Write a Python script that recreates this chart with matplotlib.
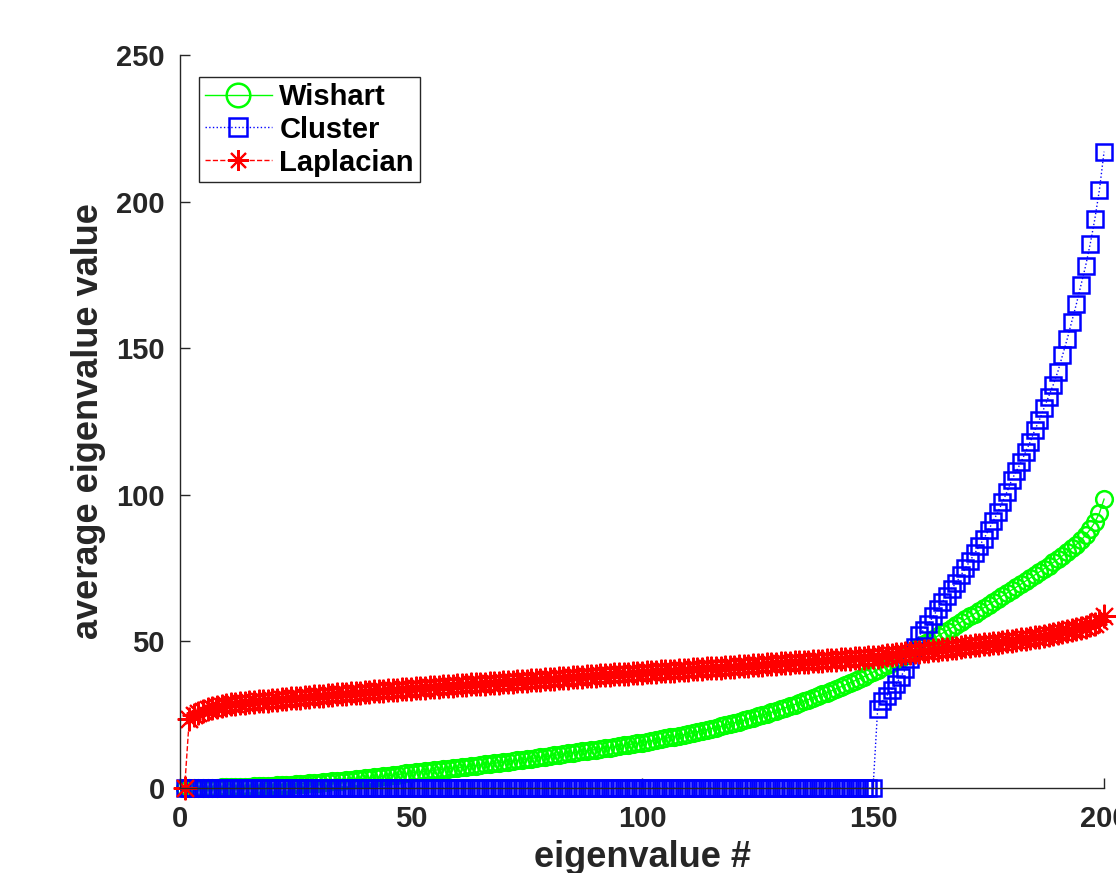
import matplotlib
matplotlib.use("Agg")
import matplotlib.pyplot as plt

# average sorted eigenvalues, index 1..200
wishart = [
    0.0, 0.02, 0.04, 0.06, 0.08, 0.1, 0.12, 0.15, 0.18, 0.21,
    0.25, 0.29, 0.34, 0.39, 0.45, 0.51, 0.57, 0.64, 0.71, 0.8,
    0.88, 0.97, 1.06, 1.16, 1.26, 1.37, 1.48, 1.59, 1.71, 1.83,
    1.96, 2.09, 2.23, 2.37, 2.51, 2.66, 2.81, 2.97, 3.13, 3.3,
    3.47, 3.65, 3.83, 4.01, 4.2, 4.39, 4.58, 4.78, 4.98, 5.18,
    5.35, 5.52, 5.69, 5.86, 6.03, 6.2, 6.37, 6.54, 6.72, 6.9,
    7.08, 7.27, 7.46, 7.65, 7.84, 8.03, 8.22, 8.41, 8.6, 8.8,
    9.0, 9.2, 9.41, 9.62, 9.83, 10.04, 10.25, 10.46, 10.68, 10.9,
    11.12, 11.34, 11.56, 11.78, 12.0, 12.22, 12.44, 12.66, 12.88, 13.1,
    13.33, 13.56, 13.8, 14.04, 14.28, 14.52, 14.76, 15.0, 15.25, 15.5,
    15.78, 16.06, 16.35, 16.64, 16.93, 17.23, 17.53, 17.84, 18.16, 18.5,
    18.84, 19.19, 19.54, 19.9, 20.26, 20.62, 21.0, 21.39, 21.79, 22.2,
    22.62, 23.05, 23.49, 23.93, 24.38, 24.84, 25.31, 25.79, 26.29, 26.8,
    27.33, 27.87, 28.42, 28.98, 29.55, 30.13, 30.72, 31.32, 31.92, 32.5,
    33.14, 33.8, 34.47, 35.15, 35.84, 36.54, 37.25, 37.97, 38.72, 39.5,
    40.3, 41.1, 41.9, 42.7, 43.5, 44.35, 45.2, 46.1, 47.0, 48.0,
    48.95, 49.9, 50.85, 51.8, 52.75, 53.7, 54.65, 55.6, 56.55, 57.5,
    58.5, 59.5, 60.5, 61.5, 62.5, 63.5, 64.5, 65.5, 66.5, 67.5,
    68.5, 69.5, 70.55, 71.6, 72.65, 73.7, 74.75, 75.8, 76.9, 78.0,
    79.2, 80.4, 81.7, 83.0, 84.5, 86.2, 88.2, 90.6, 93.8, 98.5,
]

cluster = [
    0, 0, 0, 0, 0, 0, 0, 0, 0, 0,
    0, 0, 0, 0, 0, 0, 0, 0, 0, 0,
    0, 0, 0, 0, 0, 0, 0, 0, 0, 0,
    0, 0, 0, 0, 0, 0, 0, 0, 0, 0,
    0, 0, 0, 0, 0, 0, 0, 0, 0, 0,
    0, 0, 0, 0, 0, 0, 0, 0, 0, 0,
    0, 0, 0, 0, 0, 0, 0, 0, 0, 0,
    0, 0, 0, 0, 0, 0, 0, 0, 0, 0,
    0, 0, 0, 0, 0, 0, 0, 0, 0, 0,
    0, 0, 0, 0, 0, 0, 0, 0, 0, 0,
    0, 0, 0, 0, 0, 0, 0, 0, 0, 0,
    0, 0, 0, 0, 0, 0, 0, 0, 0, 0,
    0, 0, 0, 0, 0, 0, 0, 0, 0, 0,
    0, 0, 0, 0, 0, 0, 0, 0, 0, 0,
    0, 0, 0, 0, 0, 0, 0, 0, 0, 0,
    27.0, 29.5, 31.5, 33.5, 35.5, 38.0, 40.5, 44.0, 48.0, 52.0,
    54.0, 56.0, 58.5, 61.0, 63.5, 65.5, 68.0, 70.0, 72.5, 75.0,
    77.5, 80.0, 82.5, 85.0, 88.0, 91.0, 94.0, 97.5, 101.0, 105.0,
    108.0, 111.0, 114.5, 118.0, 122.0, 125.5, 129.5, 133.5, 137.5, 142.0,
    147.5, 153.0, 159.0, 165.0, 171.5, 178.0, 185.5, 194.0, 204.0, 217.0,
]

laplacian = [
    0.0, 23.5, 24.9, 25.7, 26.3, 26.8, 27.2, 27.6, 27.95, 28.3,
    28.5, 28.7, 28.9, 29.05, 29.2, 29.35, 29.5, 29.65, 29.8, 29.95,
    30.1, 30.24, 30.38, 30.52, 30.66, 30.8, 30.94, 31.08, 31.22, 31.36,
    31.49, 31.62, 31.75, 31.88, 32.01, 32.14, 32.27, 32.4, 32.53, 32.66,
    32.78, 32.9, 33.02, 33.14, 33.26, 33.38, 33.5, 33.62, 33.74, 33.86,
    33.97, 34.08, 34.19, 34.3, 34.41, 34.52, 34.63, 34.74, 34.85, 34.96,
    35.07, 35.18, 35.29, 35.4, 35.51, 35.62, 35.73, 35.84, 35.95, 36.06,
    36.17, 36.28, 36.39, 36.5, 36.61, 36.72, 36.83, 36.94, 37.05, 37.16,
    37.27, 37.38, 37.49, 37.6, 37.71, 37.82, 37.93, 38.04, 38.15, 38.26,
    38.37, 38.48, 38.59, 38.7, 38.81, 38.92, 39.03, 39.14, 39.25, 39.36,
    39.46, 39.56, 39.66, 39.76, 39.86, 39.96, 40.06, 40.16, 40.26, 40.36,
    40.46, 40.56, 40.66, 40.76, 40.86, 40.96, 41.06, 41.16, 41.26, 41.36,
    41.47, 41.58, 41.69, 41.8, 41.91, 42.02, 42.13, 42.24, 42.35, 42.46,
    42.57, 42.68, 42.79, 42.9, 43.01, 43.12, 43.23, 43.34, 43.45, 43.56,
    43.67, 43.78, 43.89, 44.0, 44.11, 44.22, 44.33, 44.44, 44.55, 44.66,
    44.8, 45.0, 45.2, 45.4, 45.6, 45.8, 46.0, 46.15, 46.3, 46.45,
    46.63, 46.81, 46.99, 47.17, 47.35, 47.53, 47.71, 47.89, 48.07, 48.25,
    48.44, 48.63, 48.82, 49.01, 49.2, 49.4, 49.6, 49.8, 50.0, 50.2,
    50.42, 50.64, 50.86, 51.1, 51.35, 51.6, 51.87, 52.15, 52.45, 52.75,
    53.07, 53.4, 53.75, 54.1, 54.5, 54.95, 55.45, 56.05, 56.9, 58.5,
]

idx = list(range(1, len(wishart) + 1))
xticks = [0, 50, 100, 150, 200]
yticks = [0, 50, 100, 150, 200, 250]

plt.rcParams['font.family'] = ['Liberation Sans', 'DejaVu Sans']
plt.rcParams['font.weight'] = 'bold'
txt = '#262626'

fig = plt.figure(figsize=(11.16, 8.73), dpi=100)
ax = fig.add_axes([0.1613, 0.0974, 0.828, 0.8397])

ax.plot(idx, wishart, '-o', color=(0, 1, 0), lw=1.0, ms=12, mew=1.8,
        mfc='none', label='Wishart', clip_on=False)
ax.plot(idx, cluster, ':s', color=(0, 0, 1), lw=1.0, ms=11, mew=1.8,
        mfc='none', label='Cluster', clip_on=False)
ax.plot(idx, laplacian, '--', marker=(8, 2, 0), color=(1, 0, 0), lw=1.0,
        ms=17, mew=1.5, label='Laplacian', clip_on=False)

ax.set_xlim(0, 200)
ax.set_ylim(0, 250)
ax.set_xticks(xticks)
ax.set_yticks(yticks)
ax.spines['top'].set_visible(False)
ax.spines['right'].set_visible(False)
for s in ('left', 'bottom'):
    ax.spines[s].set_linewidth(1.0)
    ax.spines[s].set_color('#262626')
ax.tick_params(direction='in', length=7, width=1.0, labelsize=21,
               colors=txt)
ax.tick_params(axis='y', pad=11)
ax.tick_params(axis='x', pad=12)

ax.set_xlabel('eigenvalue #', fontsize=26, fontweight='bold', color=txt,
              labelpad=5)
ax.set_ylabel('average eigenvalue value', fontsize=26, fontweight='bold',
              color=txt, labelpad=7)

leg = ax.legend(loc='upper left', bbox_to_anchor=(0.0206, 0.970),
                borderaxespad=0, fontsize=21, frameon=True, fancybox=False,
                framealpha=1, edgecolor='#262626', numpoints=1,
                handlelength=2.3, handletextpad=0.25, labelspacing=0.17,
                borderpad=0.2)
leg.get_frame().set_linewidth(1.0)
for h, m in zip(leg.legend_handles, [17, 13, 15]):
    h.set_markersize(m)

fig.savefig('out.png', dpi=100)
